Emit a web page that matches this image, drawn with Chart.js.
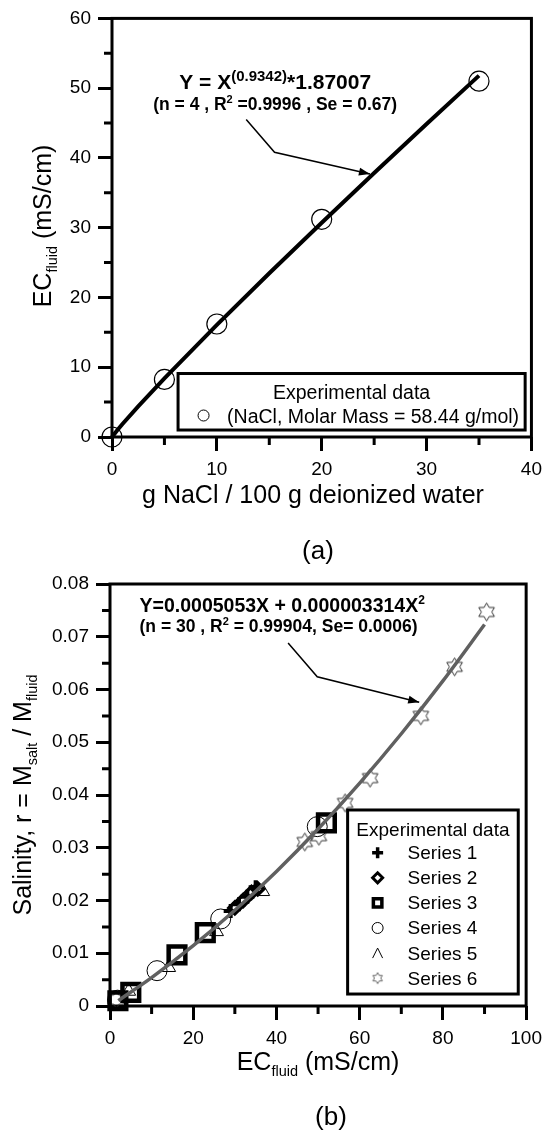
<!DOCTYPE html>
<html>
<head>
<meta charset="utf-8">
<script src="https://cdn.jsdelivr.net/npm/chart.js@4/dist/chart.umd.min.js"></script>
<style>
  body { margin: 0; background: #fff; width: 549px; height: 1135px; overflow: hidden; position: relative; }
  canvas { position: absolute; left: 0; }
  #chartA { top: 0; }
  #chartB { top: 565px; }
</style>
</head>
<body>
<canvas id="chartA" width="549" height="565"></canvas>
<canvas id="chartB" width="549" height="570"></canvas>
<script>
// Panel (a): conductivity of NaCl solutions
const naclConc = [0, 5, 10, 20, 35];             // g NaCl / 100 g water
const naclEC = [0, 8.25, 16.2, 31.2, 51.0];      // mS/cm
// power fit Y = X^0.9342 * 1.87007, tabulated
const fitAX = [0, 0.5, 1, 2.5, 5, 10, 15, 20, 25, 30, 35];
const fitAY = [0, 0.98, 1.87, 4.40, 8.41, 16.07, 23.47, 30.71, 37.83, 44.86, 51.80];
const ticksAX = [0, 10, 20, 30, 40];
const ticksAY = [0, 10, 20, 30, 40, 50, 60];
const minorAX = [5, 15, 25, 35];
const minorAY = [5, 15, 25, 35, 45, 55];

// Panel (b): salinity vs EC, six experimental series
const s1EC = [29.0, 31.0, 33.0, 35.0];
const s1R = [0.0180, 0.0193, 0.0207, 0.0225];
const s2EC = [30.0, 32.0, 34.0, 35.5];
const s2R = [0.0186, 0.0200, 0.0215, 0.0222];
const s3EC = [1.9, 5.0, 16.1, 22.9, 52.0];
const s3R = [0.0010, 0.0026, 0.0097, 0.0139, 0.0347];
const s4EC = [1.8, 11.3, 26.6, 49.8];
const s4R = [0.0011, 0.0067, 0.0165, 0.0340];
const s5EC = [4.5, 14.1, 25.6, 36.7];
const s5R = [0.0028, 0.0073, 0.0141, 0.0217];
const s6EC = [1.5, 46.8, 50.2, 56.5, 62.5, 74.7, 82.8, 90.5];
const s6R = [0.0012, 0.0311, 0.0322, 0.0385, 0.0432, 0.0550, 0.0643, 0.0747];
// quadratic fit Y = 0.0005053X + 0.000003314X^2, tabulated
const fitBX = [2, 10, 20, 30, 40, 50, 60, 70, 80, 90];
const fitBY = [0.00102, 0.00538, 0.01143, 0.01814, 0.02551, 0.03355, 0.04225, 0.05161, 0.06163, 0.07232];
const ticksBX = [0, 20, 40, 60, 80, 100];
const ticksBY = [0, 0.01, 0.02, 0.03, 0.04, 0.05, 0.06, 0.07, 0.08];
const minorBX = [10, 30, 50, 70, 90];
const minorBY = [0.005, 0.015, 0.025, 0.035, 0.045, 0.055, 0.065, 0.075];
const seriesNames = ['Series 1', 'Series 2', 'Series 3', 'Series 4', 'Series 5', 'Series 6'];

const FONT = '"Liberation Sans", Arial, sans-serif';
const CLEAR = 'rgba(0,0,0,0)';
const pts = (xs, ys) => xs.map((v, i) => ({ x: v, y: ys[i] }));

// outlined six-pointed star used as a point image
function hexagram(R, lw, color) {
  const s = Math.ceil(2 * R + lw + 2);
  const c = document.createElement('canvas');
  c.width = c.height = s;
  const g = c.getContext('2d');
  g.translate(s / 2, s / 2);
  g.beginPath();
  for (let i = 0; i < 12; i++) {
    const r = i % 2 ? R / Math.sqrt(3) : R;
    const a = -Math.PI / 2 + i * Math.PI / 6;
    if (i) g.lineTo(r * Math.cos(a), r * Math.sin(a));
    else g.moveTo(r * Math.cos(a), r * Math.sin(a));
  }
  g.closePath();
  g.lineWidth = lw;
  g.strokeStyle = color;
  g.stroke();
  return c;
}
const starBig = hexagram(9, 1, '#333');
const starSmall = hexagram(5.5, 1, '#666');

// text made of runs with their own font and vertical offset
function rich(ctx, parts, x, y, align) {
  let w = 0;
  parts.forEach(p => { ctx.font = p[1]; w += ctx.measureText(p[0]).width; });
  let cx = align === 'center' ? x - w / 2 : x;
  parts.forEach(p => {
    ctx.font = p[1];
    ctx.fillText(p[0], cx, y + (p[2] || 0));
    cx += ctx.measureText(p[0]).width;
  });
}
function richUp(ctx, parts, x, y) {
  ctx.save();
  ctx.translate(x, y);
  ctx.rotate(-Math.PI / 2);
  rich(ctx, parts, 0, 0, 'center');
  ctx.restore();
}

function arrow(ctx, path) {
  ctx.save();
  ctx.lineWidth = 1.5;
  ctx.strokeStyle = '#000';
  ctx.beginPath();
  path.forEach((p, i) => i ? ctx.lineTo(p[0], p[1]) : ctx.moveTo(p[0], p[1]));
  ctx.stroke();
  const [x1, y1] = path[path.length - 2];
  const [x2, y2] = path[path.length - 1];
  const a = Math.atan2(y2 - y1, x2 - x1);
  ctx.translate(x2, y2);
  ctx.rotate(a);
  ctx.beginPath();
  ctx.moveTo(0, 0);
  ctx.lineTo(-11, -4);
  ctx.lineTo(-11, 4);
  ctx.closePath();
  ctx.fillStyle = '#000';
  ctx.fill();
  ctx.restore();
}

// plot box and minor ticks
function framePlugin(minorX, minorY) {
  return {
    id: 'frame',
    beforeDatasetsDraw(chart) {
      const { ctx, chartArea: a, scales: { x, y } } = chart;
      ctx.save();
      ctx.strokeStyle = '#000';
      ctx.lineWidth = 3;
      ctx.strokeRect(a.left, a.top, a.right - a.left, a.bottom - a.top);
      ctx.beginPath();
      minorX.forEach(v => {
        const px = x.getPixelForValue(v);
        ctx.moveTo(px, a.bottom);
        ctx.lineTo(px, a.bottom + 8);
      });
      minorY.forEach(v => {
        const py = y.getPixelForValue(v);
        ctx.moveTo(a.left, py);
        ctx.lineTo(a.left - 8, py);
      });
      ctx.stroke();
      ctx.restore();
    }
  };
}

function axisScale(ticks, min, max, fixed, fmt) {
  return {
    type: 'linear',
    min: min,
    max: max,
    afterBuildTicks: s => { s.ticks = ticks.map(v => ({ value: v })); },
    afterFit: fixed,
    border: { display: false },
    grid: { drawOnChartArea: false, drawTicks: true, tickLength: 14, tickWidth: 3, tickColor: '#000' },
    ticks: {
      color: '#000', padding: 7, maxRotation: 0, autoSkip: false,
      font: { family: FONT, size: 19 },
      callback: fmt || (v => String(v))
    }
  };
}

const baseOptions = {
  responsive: false,
  animation: false,
  devicePixelRatio: 1,
  events: [],
  plugins: { legend: { display: false }, tooltip: { enabled: false } }
};

// ---------- chart (a) ----------
const notesA = {
  id: 'notesA',
  afterDatasetsDraw(chart) {
    const { ctx, scales: { x, y } } = chart;
    const X = v => x.getPixelForValue(v), Y = v => y.getPixelForValue(v);
    ctx.save();
    ctx.fillStyle = '#000';
    ctx.textBaseline = 'alphabetic';
    rich(ctx, [
      ['Y = X', 'bold 21px ' + FONT],
      ['(0.9342)', 'bold 15px ' + FONT, -8],
      ['*1.87007', 'bold 21px ' + FONT]
    ], X(15.56), Y(49.9), 'center');
    rich(ctx, [
      ['(n = 4 , R', 'bold 17.5px ' + FONT],
      ['2', 'bold 11px ' + FONT, -7],
      [' =0.9996 , Se = 0.67)', 'bold 17.5px ' + FONT]
    ], X(15.56), Y(46.9), 'center');
    arrow(ctx, [[X(12.8), Y(45.5)], [X(15.5), Y(40.8)], [X(24.6), Y(37.7)]]);

    // legend box
    const left = X(6.3), top = Y(9.1), right = X(39.4), bottom = Y(1.0);
    ctx.fillStyle = '#fff';
    ctx.fillRect(left, top, right - left, bottom - top);
    ctx.lineWidth = 3;
    ctx.strokeStyle = '#000';
    ctx.strokeRect(left, top, right - left, bottom - top);
    ctx.fillStyle = '#000';
    ctx.textAlign = 'center';
    ctx.font = '19.5px ' + FONT;
    ctx.fillText('Experimental data', (left + right) / 2, top + 25);
    ctx.textAlign = 'left';
    ctx.fillText('(NaCl, Molar Mass = 58.44 g/mol)', left + 49, top + 49);
    ctx.fillStyle = CLEAR;
    ctx.strokeStyle = '#000';
    ctx.lineWidth = 1;
    Chart.helpers.drawPoint(ctx, { pointStyle: 'circle', radius: 5.5, borderWidth: 1 }, left + 25.5, top + 42);
    ctx.restore();
  },
  afterDraw(chart) {
    const ctx = chart.ctx;
    ctx.save();
    ctx.fillStyle = '#000';
    ctx.textAlign = 'center';
    ctx.font = '25px ' + FONT;
    ctx.fillText('g NaCl / 100 g deionized water', 313, 503);
    ctx.font = '26px ' + FONT;
    ctx.fillText('(a)', 318, 559);
    ctx.textAlign = 'left';
    richUp(ctx, [
      ['EC', '25px ' + FONT],
      ['fluid', '14.5px ' + FONT, 6],
      [' (mS/cm)', '25px ' + FONT]
    ], 51, 226);
    ctx.restore();
  }
};

new Chart(document.getElementById('chartA'), {
  type: 'scatter',
  data: {
    datasets: [
      {
        data: pts(fitAX, fitAY), showLine: true, borderColor: '#000', borderWidth: 4,
        pointRadius: 0, clip: false, order: 0
      },
      {
        data: pts(naclConc, naclEC), pointStyle: 'circle', pointRadius: 10,
        borderColor: '#000', borderWidth: 1.2, backgroundColor: CLEAR, clip: false, order: 1
      }
    ]
  },
  options: Object.assign({}, baseOptions, {
    layout: { padding: { top: 15, right: 14, left: 0, bottom: 0 } },
    scales: {
      x: axisScale(ticksAX, 0, 40, s => { s.height = 128; }),
      y: axisScale(ticksAY, 0, 60, s => { s.width = 112; })
    }
  }),
  plugins: [framePlugin(minorAX, minorAY), notesA]
});

// ---------- chart (b) ----------
const legendStyles = [
  { pointStyle: 'cross', radius: 5.5, borderWidth: 3.5 },
  { pointStyle: 'rectRot', radius: 5, borderWidth: 3 },
  { pointStyle: 'rect', radius: 6, borderWidth: 3.5 },
  { pointStyle: 'circle', radius: 5.5, borderWidth: 1 },
  { pointStyle: 'caret', radius: 5.5, borderWidth: 1 },
  { pointStyle: starSmall, radius: 5.5, borderWidth: 1 }
];

const notesB = {
  id: 'notesB',
  afterDatasetsDraw(chart) {
    const { ctx, scales: { x, y } } = chart;
    const X = v => x.getPixelForValue(v), Y = v => y.getPixelForValue(v);
    ctx.save();
    ctx.fillStyle = '#000';
    rich(ctx, [
      ['Y=0.0005053X + 0.000003314X', 'bold 19.5px ' + FONT],
      ['2', 'bold 12px ' + FONT, -8]
    ], X(7.1), Y(0.0747), 'left');
    rich(ctx, [
      ['(n = 30 , R', 'bold 17.5px ' + FONT],
      ['2', 'bold 11px ' + FONT, -7],
      [' = 0.99904, Se= 0.0006)', 'bold 17.5px ' + FONT]
    ], X(7.1), Y(0.0709), 'left');
    arrow(ctx, [[X(42.8), Y(0.0688)], [X(49.8), Y(0.0624)], [X(74.3), Y(0.0576)]]);

    // legend box
    const left = X(57.1), top = Y(0.03716), right = X(98.1), bottom = Y(0.00227);
    ctx.fillStyle = '#fff';
    ctx.fillRect(left, top, right - left, bottom - top);
    ctx.lineWidth = 3;
    ctx.strokeStyle = '#000';
    ctx.strokeRect(left, top, right - left, bottom - top);
    ctx.fillStyle = '#000';
    ctx.font = '19px ' + FONT;
    ctx.textAlign = 'center';
    ctx.fillText('Experimental data', (left + right) / 2, top + 26);
    ctx.textAlign = 'left';
    seriesNames.forEach((name, i) => {
      const cy = top + 42.7 + i * 25.1;
      ctx.fillStyle = '#000';
      ctx.fillText(name, left + 60, cy + 6.5);
      const st = legendStyles[i];
      ctx.lineWidth = st.borderWidth;
      ctx.strokeStyle = '#000';
      ctx.fillStyle = CLEAR;
      if (st.pointStyle === 'caret') {
        ctx.beginPath();
        ctx.moveTo(left + 30 - 5, cy + 5);
        ctx.lineTo(left + 30, cy - 5);
        ctx.lineTo(left + 30 + 5, cy + 5);
        ctx.stroke();
      } else {
        Chart.helpers.drawPoint(ctx, st, left + 30, cy);
      }
    });
    ctx.restore();
  },
  afterDraw(chart) {
    const ctx = chart.ctx;
    ctx.save();
    ctx.fillStyle = '#000';
    ctx.textAlign = 'left';
    const f = '25px ' + FONT, sub = '14.5px ' + FONT;
    // horizontal title, centred by hand
    let w = 0;
    [['EC', f], ['fluid', sub], [' (mS/cm)', f]].forEach(p => { ctx.font = p[1]; w += ctx.measureText(p[0]).width; });
    rich(ctx, [['EC', f], ['fluid', sub, 6], [' (mS/cm)', f]], 318 - w / 2, 505, 'left');
    richUp(ctx, [
      ['Salinity, r = M', f],
      ['salt', sub, 6],
      [' / M', f],
      ['fluid', sub, 6]
    ], 31, 230);
    ctx.textAlign = 'center';
    ctx.font = '26px ' + FONT;
    ctx.fillText('(b)', 331, 560);
    ctx.restore();
  }
};

const markB = (xs, ys, style, r, bw, order) => ({
  data: pts(xs, ys), pointStyle: style, pointRadius: r, borderWidth: bw,
  borderColor: '#000', backgroundColor: CLEAR, clip: false, order: order
});

new Chart(document.getElementById('chartB'), {
  type: 'scatter',
  data: {
    datasets: [
      {
        data: pts(fitBX, fitBY), showLine: true, borderColor: '#606060', borderWidth: 3.5,
        pointRadius: 0, cubicInterpolationMode: 'monotone', clip: false, order: 0
      },
      markB(s1EC, s1R, 'cross', 7, 4, 1),
      markB(s2EC, s2R, 'rectRot', 6, 3.5, 2),
      markB(s3EC, s3R, 'rect', 11.8, 4.5, 3),
      markB(s4EC, s4R, 'circle', 10, 1, 4),
      markB(s5EC, s5R, 'triangle', 8, 1, 5),
      markB(s6EC, s6R, starBig, 9, 1, 6)
    ]
  },
  options: Object.assign({}, baseOptions, {
    layout: { padding: { top: 19, right: 17, left: 0, bottom: 0 } },
    scales: {
      x: axisScale(ticksBX, 0, 100, s => { s.height = 129; }),
      y: axisScale(ticksBY, 0, 0.08, s => { s.width = 110; }, v => v === 0 ? '0' : v.toFixed(2))
    }
  }),
  plugins: [framePlugin(minorBX, minorBY), notesB]
});
</script>
</body>
</html>
